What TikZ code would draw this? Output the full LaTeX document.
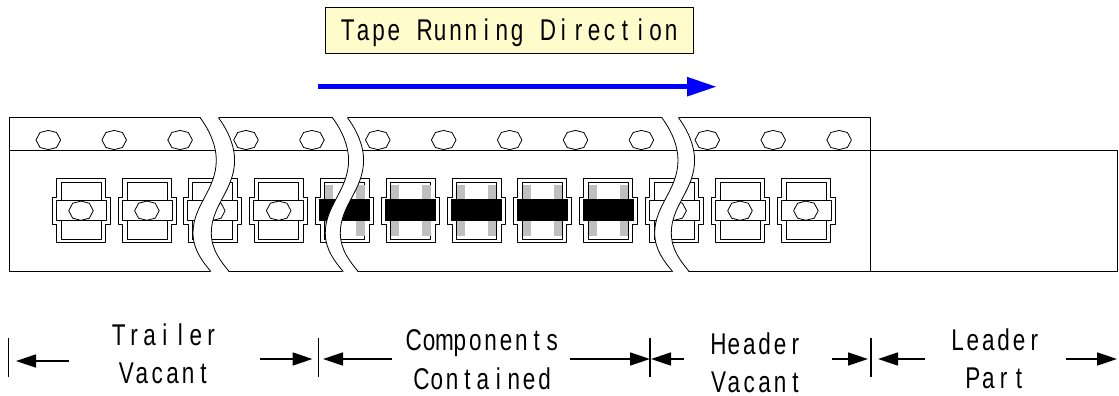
\documentclass[tikz,border=0pt]{standalone}
\usepackage{fontspec}
\usetikzlibrary{arrows.meta}
\newfontfamily\tapefont[FakeStretch=0.75]{Liberation Sans}

% every letter gets the same width, as on the printed label
\newcommand{\tapetext}[1]{\tapeloop#1\relax}
\def\tapeloop#1{\ifx#1\relax\else\makebox[15.4pt]{#1}\expandafter\tapeloop\fi}

\tikzset{
    tapeline/.style={draw=black,line width=0.8pt},
    dimarrow/.style={-{Triangle[length=20pt,width=13pt]},line width=1.6pt},
    dimtick/.style={line width=1.5pt},
    dimlabel/.style={font=\tapefont\fontsize{30}{38.5}\selectfont,align=center,inner sep=0pt},
    titlebox/.style={draw=black,line width=0.9pt,fill=yellow!20,minimum width=368pt,minimum height=46pt,inner sep=0pt,text height=29.4pt,text depth=8pt,font=\tapefont\fontsize{30}{35}\selectfont}
}

\begin{document}
\begin{tikzpicture}[x=1pt,y=-1pt,line join=round]
    \useasboundingbox (0,0) rectangle (1119,396);

    % Title and running direction
    \node[titlebox] (title) at (509.5,30.3) {\tapetext{Tape~Running~Direction}};
    \coordinate (runstart) at (318,86.7);
    \coordinate (runend) at (717,86.7);
    \draw[-{Triangle[length=30pt,width=18pt]},blue,line width=5.5pt] (runstart) -- (runend);

    % Tape and leader
    \draw[tapeline] (9,150.7) -- (1117.5,150.7) -- (1117.5,271.7) -- (9,271.7) -- (9,117.5) -- (870,117.5) -- (870,271.7);

    % Sprocket holes
    \foreach \x in {48.3,114.2,180.1,246,311.9,377.8,443.7,509.6,575.5,641.4,707.3,773.2,839.1}
        \draw[tapeline,shift={(\x,140)}] (-12.3,0) -- (-8.3,-7.5) -- (0,-9.6) -- (8.3,-7.5) -- (12.3,0) -- (8.3,7.5) -- (0,9.6) -- (-8.3,7.5) -- cycle;

    % Pockets
    \foreach \x in {81,146.9,212.8,278.7,344.6,410.5,476.4,542.3,608.2,674.1,740,805.9} {
        \begin{scope}[shift={(\x,210.7)}]
            \draw[tapeline] (-24.5,-32) -- (24.5,-32) -- (24.5,-13.4) -- (29,-13.4) -- (29,13.4) -- (24.5,13.4) -- (24.5,32) -- (-24.5,32) -- (-24.5,13.4) -- (-29,13.4) -- (-29,-13.4) -- (-24.5,-13.4) -- cycle;
            \draw[tapeline] (-20,-10.7) -- (-20,-28.7) -- (20,-28.7) -- (20,-10.7);
            \draw[tapeline] (-20,10) -- (-20,28.6) -- (20,28.6) -- (20,10);
            \draw[tapeline] (-25,-10.7) rectangle (25,10);
        \end{scope}
    }

    % Empty pockets have a hole
    \foreach \x in {81,146.9,212.8,278.7,674.1,740,805.9}
        \draw[tapeline,shift={(\x,210.7)}] (-12.3,0) -- (-8.3,-7.5) -- (0,-9.6) -- (8.3,-7.5) -- (12.3,0) -- (8.3,7.5) -- (0,9.6) -- (-8.3,7.5) -- cycle;

    % Components
    \foreach \x in {344.6,410.5,476.4,542.3,608.2} {
        \fill[gray!50,shift={(\x,210.7)}] (-19.5,-26) rectangle (-11.5,25.3);
        \fill[gray!50,shift={(\x,210.7)}] (11.8,-26) rectangle (20,25.3);
        \fill[black,shift={(\x,210.7)}] (-25.3,-11.7) rectangle (25.3,10.3);
    }

    % Breaks in the tape
    \foreach \x/\w in {200/18.3,332.3/15,661.7/16.6} {
        \fill[white,shift={(\x,0)}] (0,116.5) .. controls (10,131) and (16.3,146) .. (16.3,160) .. controls (16.3,190) and (-7,205) .. (-7,233) .. controls (-7,250) and (3,262) .. (11,272.7) -- ++(\w,0) .. controls (3+\w,262) and (-7+\w,250) .. (-7+\w,233) .. controls (-7+\w,205) and (16.3+\w,190) .. (16.3+\w,160) .. controls (16.3+\w,146) and (10+\w,131) .. (\w,116.5) -- cycle;
        \draw[tapeline,shift={(\x,0)}] (0,117.5) .. controls (10,131) and (16.3,146) .. (16.3,160) .. controls (16.3,190) and (-7,205) .. (-7,233) .. controls (-7,250) and (3,262) .. (11,271.7);
        \draw[tapeline,shift={(\x+\w,0)}] (0,117.5) .. controls (10,131) and (16.3,146) .. (16.3,160) .. controls (16.3,190) and (-7,205) .. (-7,233) .. controls (-7,250) and (3,262) .. (11,271.7);
    }

    % Section labels
    \node[dimlabel] (trailer) at (165,354) {\tapetext{Trailer}\\\tapetext{Vacant}};
    \node[dimlabel] (components) at (483,359.5) {\tapetext{Components}\\\tapetext{Contained}};
    \node[dimlabel] (header) at (757,363) {\tapetext{Header}\\\tapetext{Vacant}};
    \node[dimlabel] (leader) at (996,359) {\tapetext{Leader}\\\tapetext{Part}};

    % Section limits
    \coordinate (tickA) at (8.6,338);
    \coordinate (tickAend) at (8.6,377);
    \coordinate (tickB) at (318.5,338);
    \coordinate (tickBend) at (318.5,377);
    \coordinate (tickC) at (650,338);
    \coordinate (tickCend) at (650,377);
    \coordinate (tickD) at (871,338);
    \coordinate (tickDend) at (871,377);
    \draw[dimtick] (tickA) -- (tickAend);
    \draw[dimtick] (tickB) -- (tickBend);
    \draw[dimtick] (tickC) -- (tickCend);
    \draw[dimtick] (tickD) -- (tickDend);

    % Dimension arrows
    \coordinate (a1) at (69,361);
    \coordinate (a2) at (16,361);
    \coordinate (a3) at (260,359);
    \coordinate (a4) at (312.5,359);
    \coordinate (a5) at (392,359);
    \coordinate (a6) at (323,359);
    \coordinate (a7) at (570,359);
    \coordinate (a8) at (650,359);
    \coordinate (a9) at (683.5,359);
    \coordinate (a10) at (651,359);
    \coordinate (a11) at (832,359);
    \coordinate (a12) at (868,359);
    \coordinate (a13) at (925,359);
    \coordinate (a14) at (878,359);
    \coordinate (a15) at (1066,359);
    \coordinate (a16) at (1117,359);
    \foreach \p/\q in {a1/a2,a3/a4,a5/a6,a7/a8,a9/a10,a11/a12,a13/a14,a15/a16}
        \draw[dimarrow] (\p) -- (\q);
\end{tikzpicture}
\end{document}
